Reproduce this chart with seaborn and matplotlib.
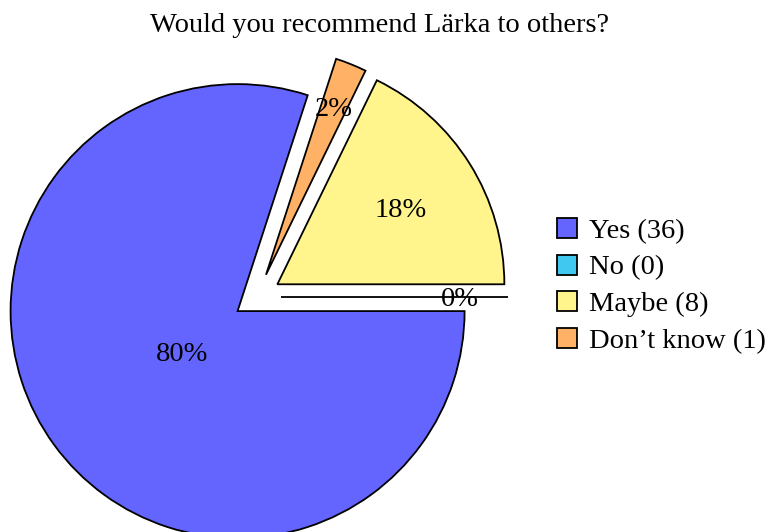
import numpy as np
import matplotlib
matplotlib.use("Agg")
import matplotlib.pyplot as plt
import seaborn as sns

categories = ["Yes", "No", "Maybe", "Don\u2019t know"]
counts = [36, 0, 8, 1]
colors = ["#6464ff", "#40c8f0", "#fff58c", "#ffb266"]
title = "Would you recommend L\u00e4rka to others?"

# label radial distances (fraction of radius from each exploded wedge's centre)
label_dist = [0.30, 0.79, 0.64, 0.80]

sns.set_style("white")
plt.rcParams["font.family"] = ["Liberation Serif", "DejaVu Serif"]
plt.rcParams["text.color"] = "black"

FS = 20.5
W, H = 771, 532
fig = plt.figure(figsize=(W / 100, H / 100), dpi=100)
ax = fig.add_axes([0, 0, 1, 1])

R = 227
C = (257, H - 297)
explode = [24] * len(counts)  # offsets in data (pixel) units

wedges, texts, autotexts = ax.pie(
    counts, colors=colors, startangle=72, counterclock=True,
    explode=explode, radius=R, center=C, autopct="%.0f%%",
    pctdistance=0.5, normalize=True,
    wedgeprops=dict(edgecolor="black", linewidth=1.3),
    textprops=dict(fontsize=FS, color="black"),
)
ax.set_xlim(0, W)
ax.set_ylim(0, H)
ax.set_aspect("equal")
ax.axis("off")

for w, t, d in zip(wedges, autotexts, label_dist):
    mid = np.deg2rad((w.theta1 + w.theta2) / 2)
    cx, cy = w.center
    t.set_position((cx + d * R * np.cos(mid), cy + d * R * np.sin(mid) - 3))
    t.set_ha("center")
    t.set_va("center")

labels = [f"{c} ({n})" for c, n in zip(categories, counts)]
leg = ax.legend(wedges, labels, loc="center left",
                bbox_to_anchor=(557 / W, (H - 286) / H), frameon=False,
                fontsize=FS, handlelength=0.7, handleheight=0.7,
                handletextpad=0.42, labelspacing=0.38, borderpad=0,
                borderaxespad=0, labelcolor="black")

fig.text(379 / W, 1 - 25 / H, title, ha="center", va="center",
         fontsize=FS, color="black")

fig.savefig("out.png", dpi=100)
